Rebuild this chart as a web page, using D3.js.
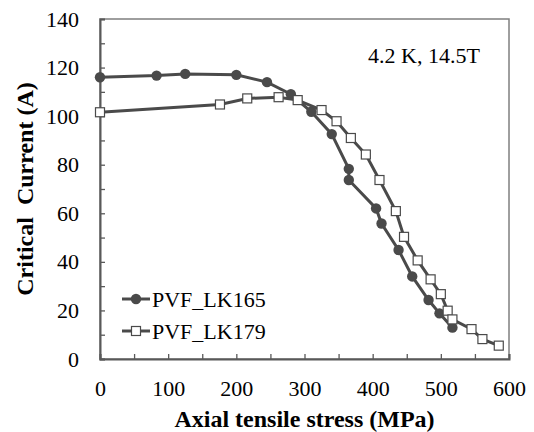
<!DOCTYPE html>
<html>
<head>
<meta charset="utf-8">
<script src="https://cdn.jsdelivr.net/npm/d3@7"></script>
<style>
  body { margin: 0; background: #fff; }
  svg text { font-family: 'Liberation Serif', 'DejaVu Serif', serif; }
</style>
</head>
<body>
<svg id="chart" width="534" height="432"></svg>
<script>
// data
const stressLK165 = [0, 83, 125, 200, 245, 280, 310, 340, 365, 365, 405, 413, 438, 458, 482, 498, 517];
const currentLK165 = [116, 116.7, 117.4, 117, 114, 109, 101.8, 92.6, 78.3, 73.7, 62, 55.8, 44.9, 34, 24.3, 18.8, 12.9];
const stressLK179 = [0, 176, 216, 262, 290, 325, 347, 368, 390, 410, 434, 446, 466, 485, 500, 510, 517, 545, 561, 585];
const currentLK179 = [101.6, 104.8, 107.3, 107.8, 106.6, 102.5, 97.9, 91, 84.2, 73.7, 60.9, 50.3, 40.6, 32.8, 26.7, 19.9, 16.3, 12.3, 8.2, 5.5];
const seriesNames = ['PVF_LK165', 'PVF_LK179'];
const xTicks = d3.range(0, 601, 50);
const yTicks = d3.range(0, 141, 10);

const serif = "'Liberation Serif', 'DejaVu Serif', serif";
const svg = d3.select('#chart').attr('font-family', serif);
const plotL = 100, plotR = 509, plotT = 19, plotB = 359;
const ink = '#4a4a4a';

const x = d3.scaleLinear().domain([0, 600]).range([plotL, plotR]);
const y = d3.scaleLinear().domain([0, 140]).range([plotB, plotT]);

// frame (top and right)
svg.append('rect')
  .attr('x', plotL).attr('y', plotT)
  .attr('width', plotR - plotL).attr('height', plotB - plotT)
  .attr('fill', 'none').attr('stroke', '#7f7f7f').attr('stroke-width', 1.5);

// axes, ticks pointing inward
const yAxis = svg.append('g')
  .attr('transform', `translate(${plotL},0)`)
  .call(d3.axisLeft(y).tickValues(yTicks).tickSize(-5).tickPadding(21)
    .tickFormat(d => d % 20 === 0 ? d : ''));
const xAxis = svg.append('g')
  .attr('transform', `translate(0,${plotB})`)
  .call(d3.axisBottom(x).tickValues(xTicks).tickSize(-5).tickPadding(21)
    .tickFormat(d => d % 100 === 0 ? d : ''));

[xAxis, yAxis].forEach(g => {
  g.attr('font-family', serif).attr('font-size', 22);
  g.select('.domain').attr('stroke', '#595959').attr('stroke-width', 2);
  g.selectAll('.tick line').attr('stroke', '#595959').attr('stroke-width', 1.3);
  g.selectAll('.tick text').attr('fill', '#000');
});

// axis titles
svg.append('text')
  .attr('x', (plotL + plotR) / 2).attr('y', 427)
  .attr('text-anchor', 'middle')
  .attr('font-size', 24).attr('font-weight', 'bold')
  .text('Axial tensile stress (MPa)');

svg.append('text')
  .attr('transform', `translate(33,${(plotT + plotB) / 2}) rotate(-90)`)
  .attr('text-anchor', 'middle')
  .attr('font-size', 24).attr('font-weight', 'bold')
  .style('white-space', 'pre')
  .text('Critical  Current (A)');

// condition note
svg.append('text')
  .attr('x', 368).attr('y', 63)
  .attr('font-size', 22)
  .text('4.2 K, 14.5T');

const line = d3.line().x(d => x(d[0])).y(d => y(d[1]));

const pts165 = stressLK165.map((s, i) => [s, currentLK165[i]]);
const pts179 = stressLK179.map((s, i) => [s, currentLK179[i]]);

// PVF_LK165 - filled circles
svg.append('path').datum(pts165)
  .attr('d', line).attr('fill', 'none')
  .attr('stroke', ink).attr('stroke-width', 3);
svg.append('g').selectAll('circle').data(pts165).join('circle')
  .attr('cx', d => x(d[0])).attr('cy', d => y(d[1]))
  .attr('r', 5.2).attr('fill', ink);

// PVF_LK179 - open squares
svg.append('path').datum(pts179)
  .attr('d', line).attr('fill', 'none')
  .attr('stroke', ink).attr('stroke-width', 3);
svg.append('g').selectAll('rect').data(pts179).join('rect')
  .attr('x', d => x(d[0]) - 4.5).attr('y', d => y(d[1]) - 4.5)
  .attr('width', 9).attr('height', 9)
  .attr('fill', '#fff').attr('stroke', ink).attr('stroke-width', 1.2);

// legend
const legend = svg.append('g');
seriesNames.forEach((name, i) => {
  const ly = 299 + i * 32;
  legend.append('line')
    .attr('x1', 122).attr('x2', 150).attr('y1', ly).attr('y2', ly)
    .attr('stroke', ink).attr('stroke-width', 3);
  if (i === 0) {
    legend.append('circle').attr('cx', 136).attr('cy', ly).attr('r', 5.2).attr('fill', ink);
  } else {
    legend.append('rect').attr('x', 131.5).attr('y', ly - 4.5).attr('width', 9).attr('height', 9)
      .attr('fill', '#fff').attr('stroke', ink).attr('stroke-width', 1.2);
  }
  legend.append('text')
    .attr('x', 152).attr('y', ly).attr('dy', '0.35em')
    .attr('font-size', 22)
    .text(name);
});
</script>
</body>
</html>
